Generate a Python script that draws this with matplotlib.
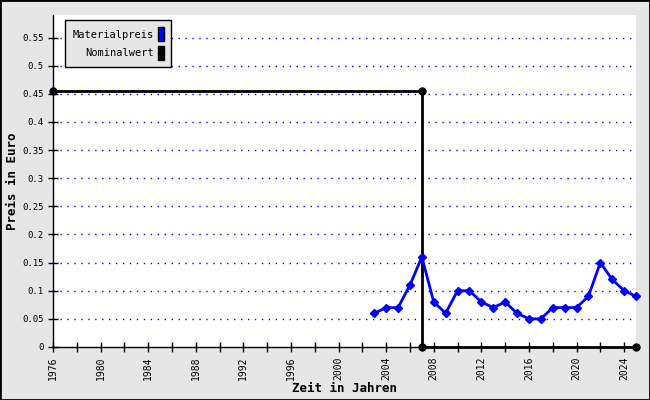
import matplotlib.pyplot as plt
from matplotlib.patches import Patch

years = [2003, 2004, 2005, 2006, 2007, 2008, 2009, 2010, 2011, 2012, 2013, 2014,
         2015, 2016, 2017, 2018, 2019, 2020, 2021, 2022, 2023, 2024, 2025]
materialpreis = [0.06, 0.07, 0.07, 0.11, 0.16, 0.08, 0.06, 0.10, 0.10, 0.08, 0.07, 0.08,
                 0.06, 0.05, 0.05, 0.07, 0.07, 0.07, 0.09, 0.15, 0.12, 0.10, 0.09]

nominal_years = [1976, 2007, 2007, 2025]
nominalwert = [0.455, 0.455, 0.0, 0.0]

fig = plt.figure(figsize=(6.5, 4), dpi=100, facecolor="#e6e6e6")
ax = fig.add_axes([0.0815, 0.1325, 0.897, 0.83])
ax.set_facecolor("white")

for y in [i * 0.05 for i in range(1, 12)]:
    ax.axhline(y, color="blue", linestyle=(0, (1, 4)), linewidth=1, zorder=1)

ax.plot(nominal_years, nominalwert, color="black", linewidth=2, marker="o",
        markersize=5, zorder=3, clip_on=False)
ax.plot(years, materialpreis, color="blue", linewidth=2, marker="D",
        markersize=4, zorder=4, clip_on=False)

ax.set_xlim(1976, 2025)
ax.set_ylim(0, 0.59)
ax.set_xticks(range(1976, 2026, 2))
ax.set_xticklabels([str(y) if (y - 1976) % 4 == 0 else "" for y in range(1976, 2026, 2)],
                   rotation=90, fontsize=7, family="DejaVu Sans Mono")
ax.set_yticks([i * 0.05 for i in range(0, 12)])
ax.set_yticklabels(["0"] + ["%g" % round(i * 0.05, 2) for i in range(1, 12)],
                   fontsize=6.5, family="DejaVu Sans Mono")
ax.tick_params(direction="inout", length=7, width=1, colors="black", pad=3)

for side in ["top", "right"]:
    ax.spines[side].set_visible(False)
ax.spines["left"].set_linewidth(1)
ax.spines["bottom"].set_linewidth(1)

ax.set_xlabel("Zeit in Jahren", fontsize=9, fontweight="bold", family="DejaVu Sans Mono", labelpad=2)
ax.set_ylabel("Preis in Euro", fontsize=9, fontweight="bold", family="DejaVu Sans Mono")
ax.yaxis.set_label_coords(-0.058, 0.5)

handles = [Patch(facecolor="blue", edgecolor="black"), Patch(facecolor="black", edgecolor="black")]
leg = ax.legend(handles, ["Materialpreis", "Nominalwert"], loc="upper left",
                bbox_to_anchor=(0.0206, 0.985), borderaxespad=0, markerfirst=False,
                frameon=True, fancybox=False, facecolor="#e6e6e6", edgecolor="black",
                framealpha=1, prop={"family": "DejaVu Sans Mono", "size": 7.5},
                handlelength=0.6, handleheight=1.7, handletextpad=0.4,
                borderpad=0.7, labelspacing=0.4)
leg.get_frame().set_linewidth(1)

fig.patches.append(plt.Rectangle((0, 0), 1, 1, transform=fig.transFigure, fill=False,
                                 edgecolor="black", linewidth=2))

fig.savefig("out.png", dpi=100, facecolor=fig.get_facecolor())
